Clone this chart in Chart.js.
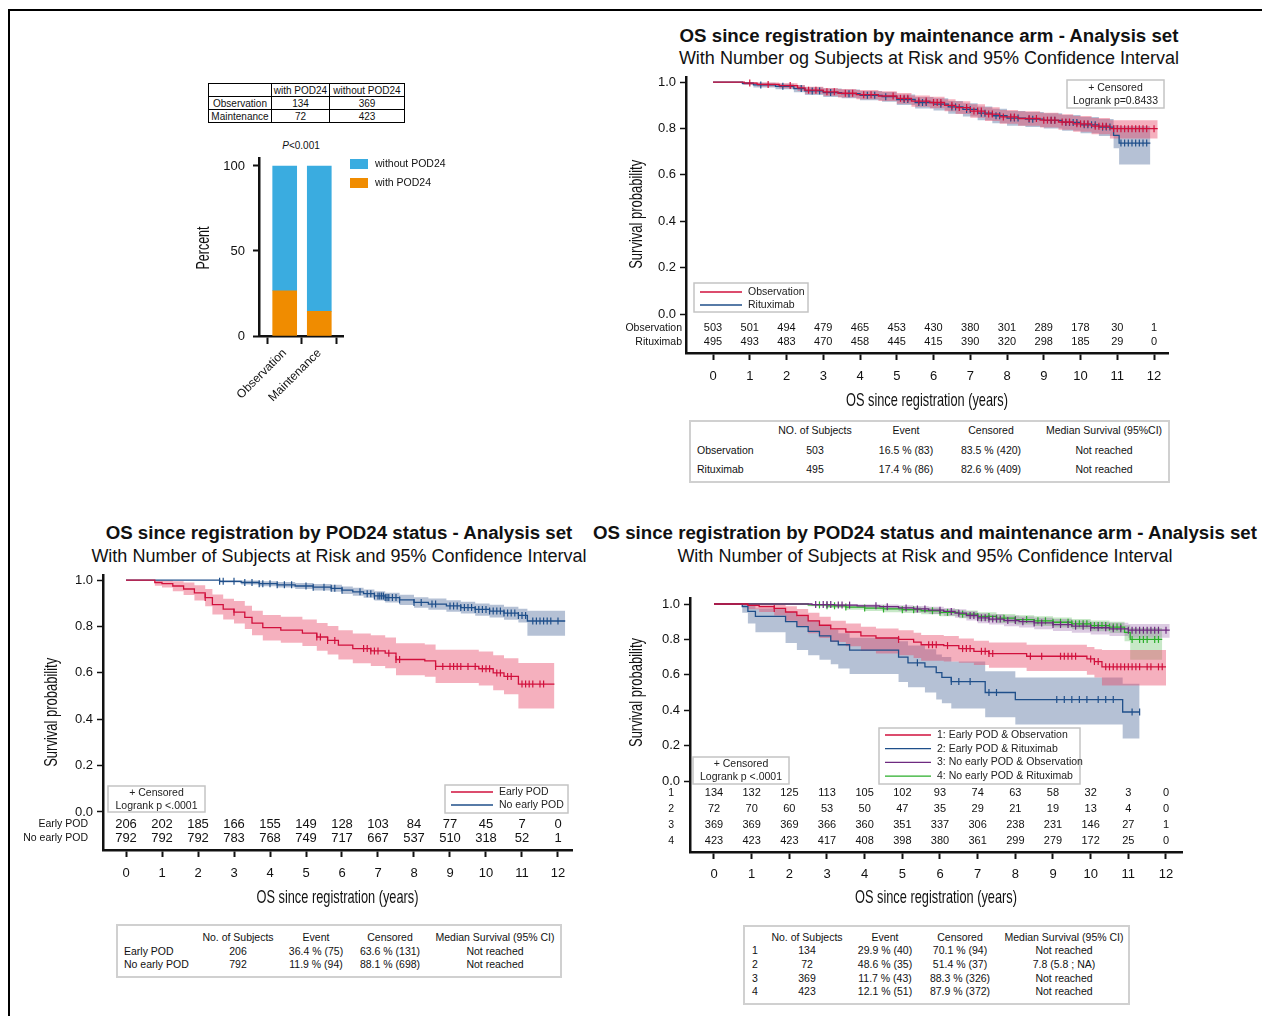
<!DOCTYPE html>
<html>
<head>
<meta charset="utf-8">
<script src="https://cdn.jsdelivr.net/npm/chart.js@4.4.0/dist/chart.umd.min.js"></script>
<style>
body{margin:0;background:#fff;font-family:"Liberation Sans",Arial,sans-serif;color:#111}
#page{position:relative;width:1262px;height:1016px;overflow:hidden}
#frame{position:absolute;left:8px;top:9px;width:1300px;height:1100px;border-top:2px solid #000;border-left:2px solid #000}
canvas{position:absolute}
.ttl{position:absolute;white-space:nowrap;transform:translate(-50%,-50%)}
.ttl.b{font-weight:bold;font-size:18.7px}
.ttl.s{font-size:18px}
.box{position:absolute;border:2px solid #d0d0d0}
.cell{position:absolute;white-space:nowrap;font-size:10.5px;transform:translate(-50%,-50%)}
.cell.l{transform:translate(0,-50%)}
#cnt{position:absolute;left:208px;top:83px;border-collapse:collapse;font-size:10px}
#cnt td{border:1.5px solid #000;padding:0 1px;height:12px;line-height:11px;text-align:center}
#pval{position:absolute;left:301px;top:145px;transform:translate(-50%,-50%);font-size:10px}
</style>
</head>
<body>
<div id="page">
  <div id="frame"></div>
  <table id="cnt"></table>
  <div id="pval"><i>P</i>&lt;0.001</div>
  <canvas id="bar" width="280" height="280" style="left:180px;top:140px"></canvas>
  <canvas id="kmB" width="580" height="345" style="left:600px;top:70px"></canvas>
  <canvas id="kmC" width="580" height="345" style="left:10px;top:570px"></canvas>
  <canvas id="kmD" width="590" height="330" style="left:600px;top:590px"></canvas>
</div>
<script>
// ---------- data ----------
const cntHead = ['', 'with POD24', 'without POD24'];
const cntRows = [['Observation', '134', '369'], ['Maintenance', '72', '423']];

const barCats = ['Observation', 'Maintenance'];
const pctWithPod = [26.6, 14.5];
const pctWithoutPod = [73.4, 85.5];

const riskTimes = [0, 1, 2, 3, 4, 5, 6, 7, 8, 9, 10, 11, 12];
const survTicks = [0, 0.2, 0.4, 0.6, 0.8, 1.0];

// top right: by maintenance arm
const obsT  = [0, 0.85, 1.2, 1.8, 2.3, 2.5, 3.0, 3.4, 3.9, 4.5, 5.0, 5.4, 5.9, 6.3, 6.6, 7.0, 7.4, 7.8, 8.3, 8.9, 9.4, 9.8, 10.3, 10.8, 12.1];
const obsS  = [1, 0.996, 0.99, 0.985, 0.975, 0.965, 0.958, 0.952, 0.946, 0.94, 0.93, 0.918, 0.912, 0.9, 0.89, 0.875, 0.862, 0.85, 0.843, 0.836, 0.828, 0.82, 0.81, 0.799, 0.799];
const obsHi = [1, 1, 0.998, 0.995, 0.988, 0.98, 0.975, 0.97, 0.966, 0.961, 0.953, 0.942, 0.937, 0.926, 0.917, 0.904, 0.892, 0.88, 0.874, 0.868, 0.861, 0.854, 0.845, 0.836, 0.836];
const obsLo = [1, 0.99, 0.981, 0.974, 0.962, 0.95, 0.941, 0.934, 0.926, 0.919, 0.907, 0.894, 0.887, 0.874, 0.863, 0.846, 0.832, 0.82, 0.812, 0.804, 0.795, 0.786, 0.775, 0.757, 0.757];
const obsCens = [1.0, 1.5, 2.1, 2.6, 2.8, 3.1, 3.3, 3.6, 3.8, 4.1, 4.3, 4.9, 5.1, 5.2, 5.3, 5.6, 5.8, 6.0, 6.1, 6.2, 6.5, 6.7, 6.9, 7.1, 7.2, 7.3, 7.5, 7.6, 7.9, 8.1, 8.2, 8.6, 8.8, 9.0, 9.1, 9.2, 9.3, 9.5, 9.6, 9.7, 9.9, 10.0, 10.1, 10.2, 10.4, 10.5, 10.6, 10.7, 10.9, 11.0, 11.1, 11.2, 11.3, 11.4, 11.5, 11.6, 11.7, 11.8, 12.0];
const rtxT  = [0, 0.8, 1.1, 1.7, 2.2, 2.5, 3.0, 3.5, 4.0, 4.6, 5.0, 5.5, 6.0, 6.4, 6.8, 7.2, 7.6, 8.0, 8.5, 9.0, 9.5, 10.0, 10.5, 10.9, 11.05, 11.9];
const rtxS  = [1, 0.995, 0.988, 0.982, 0.972, 0.962, 0.955, 0.95, 0.943, 0.937, 0.925, 0.912, 0.905, 0.893, 0.882, 0.866, 0.855, 0.845, 0.84, 0.835, 0.826, 0.816, 0.806, 0.77, 0.737, 0.737];
const rtxHi = [1, 1, 0.997, 0.993, 0.986, 0.978, 0.972, 0.968, 0.962, 0.957, 0.947, 0.936, 0.93, 0.919, 0.909, 0.895, 0.885, 0.875, 0.871, 0.866, 0.858, 0.85, 0.841, 0.815, 0.81, 0.81];
const rtxLo = [1, 0.988, 0.977, 0.969, 0.956, 0.944, 0.936, 0.93, 0.922, 0.915, 0.901, 0.886, 0.878, 0.864, 0.852, 0.835, 0.823, 0.812, 0.806, 0.8, 0.79, 0.78, 0.768, 0.715, 0.645, 0.645];
const rtxCens = [1.3, 1.9, 2.4, 2.7, 2.9, 3.2, 3.7, 4.2, 4.4, 4.7, 5.2, 5.3, 5.6, 5.7, 5.8, 6.2, 6.5, 6.6, 6.9, 7.0, 7.3, 7.4, 7.7, 7.8, 8.1, 8.2, 8.3, 8.6, 8.7, 9.2, 9.3, 9.6, 9.7, 9.8, 9.9, 10.1, 10.2, 10.3, 10.4, 10.6, 10.7, 10.8, 11.1, 11.2, 11.3, 11.4, 11.5, 11.6, 11.7, 11.8];
const riskObs = [503, 501, 494, 479, 465, 453, 430, 380, 301, 289, 178, 30, 1];
const riskRtx = [495, 493, 483, 470, 458, 445, 415, 390, 320, 298, 185, 29, 0];

// bottom left: by POD24 status
const epT  = [0, 0.8, 1.0, 1.3, 1.6, 1.9, 2.2, 2.4, 2.7, 3.0, 3.3, 3.5, 3.8, 4.3, 4.9, 5.3, 5.6, 5.9, 6.3, 6.8, 7.2, 7.5, 8.3, 8.6, 9.8, 10.2, 10.5, 10.9, 11.9];
const epS  = [1, 0.99, 0.985, 0.975, 0.962, 0.945, 0.925, 0.895, 0.875, 0.862, 0.84, 0.815, 0.795, 0.785, 0.772, 0.755, 0.74, 0.72, 0.705, 0.695, 0.685, 0.658, 0.652, 0.628, 0.618, 0.6, 0.585, 0.552, 0.552];
const epHi = [1, 1, 1, 0.995, 0.99, 0.978, 0.962, 0.938, 0.92, 0.91, 0.89, 0.868, 0.85, 0.842, 0.83, 0.815, 0.802, 0.784, 0.77, 0.762, 0.753, 0.728, 0.723, 0.7, 0.692, 0.676, 0.663, 0.643, 0.643];
const epLo = [1, 0.976, 0.968, 0.952, 0.936, 0.912, 0.888, 0.852, 0.83, 0.813, 0.79, 0.762, 0.74, 0.73, 0.716, 0.696, 0.68, 0.658, 0.642, 0.63, 0.62, 0.59, 0.583, 0.557, 0.546, 0.525, 0.508, 0.447, 0.447];
const epCens = [2.2, 3.0, 5.3, 5.4, 5.6, 5.8, 6.6, 6.7, 6.8, 6.9, 7.0, 7.3, 7.5, 7.6, 8.6, 8.8, 9.0, 9.1, 9.2, 9.3, 9.5, 9.7, 9.9, 10.0, 10.1, 10.3, 10.4, 10.6, 10.7, 11.0, 11.1, 11.2, 11.3, 11.5, 11.6];
const nepT  = [0, 2.6, 3.2, 3.7, 4.2, 4.7, 5.2, 5.7, 6.0, 6.3, 6.6, 6.9, 7.2, 7.6, 8.0, 8.4, 8.9, 9.3, 9.7, 10.1, 10.5, 10.9, 11.15, 12.2];
const nepS  = [1, 0.995, 0.99, 0.985, 0.98, 0.975, 0.97, 0.965, 0.957, 0.95, 0.942, 0.932, 0.925, 0.915, 0.904, 0.897, 0.889, 0.882, 0.874, 0.867, 0.858, 0.848, 0.824, 0.824];
const nepHi = [1, 1, 0.999, 0.996, 0.992, 0.988, 0.984, 0.98, 0.973, 0.967, 0.96, 0.952, 0.946, 0.937, 0.927, 0.921, 0.914, 0.907, 0.9, 0.894, 0.886, 0.877, 0.868, 0.868];
const nepLo = [1, 0.99, 0.981, 0.974, 0.968, 0.962, 0.956, 0.95, 0.941, 0.933, 0.924, 0.912, 0.904, 0.893, 0.881, 0.873, 0.864, 0.856, 0.847, 0.839, 0.829, 0.818, 0.76, 0.76];
const nepCens = [2.6, 2.7, 3.0, 3.3, 3.5, 3.7, 3.8, 4.0, 4.2, 4.4, 4.6, 5.0, 5.2, 5.5, 5.7, 5.8, 6.0, 6.5, 6.7, 6.8, 6.9, 7.0, 7.05, 7.1, 7.15, 7.2, 7.25, 7.3, 7.4, 7.5, 7.6, 8.0, 8.2, 8.5, 8.6, 9.0, 9.1, 9.2, 9.3, 9.4, 9.5, 9.6, 9.7, 9.8, 9.9, 10.0, 10.1, 10.2, 10.3, 10.4, 10.5, 10.6, 10.7, 10.8, 10.9, 11.0, 11.1, 11.3, 11.4, 11.5, 11.6, 11.7, 11.8, 12.0];
const riskEarly = [206, 202, 185, 166, 155, 149, 128, 103, 84, 77, 45, 7, 0];
const riskNoEarly = [792, 792, 792, 783, 768, 749, 717, 667, 537, 510, 318, 52, 1];

// bottom right: POD24 status x maintenance arm
const g1T  = [0, 0.9, 1.2, 1.6, 1.9, 2.2, 2.5, 2.8, 3.1, 3.5, 3.9, 4.3, 4.9, 5.3, 5.5, 6.1, 6.5, 6.9, 7.3, 8.3, 9.9, 10.1, 10.3, 12.0];
const g1S  = [1, 0.992, 0.985, 0.975, 0.955, 0.935, 0.905, 0.88, 0.86, 0.842, 0.82, 0.808, 0.8, 0.785, 0.77, 0.765, 0.748, 0.733, 0.72, 0.705, 0.69, 0.675, 0.645, 0.645];
const g1Hi = [1, 1, 1, 0.997, 0.987, 0.972, 0.95, 0.928, 0.906, 0.89, 0.872, 0.862, 0.852, 0.838, 0.825, 0.82, 0.805, 0.792, 0.782, 0.77, 0.757, 0.745, 0.74, 0.74];
const g1Lo = [1, 0.97, 0.955, 0.935, 0.905, 0.875, 0.835, 0.808, 0.785, 0.762, 0.735, 0.72, 0.71, 0.695, 0.68, 0.675, 0.668, 0.655, 0.64, 0.622, 0.6, 0.585, 0.54, 0.54];
const g1Cens = [1.6, 4.9, 5.7, 5.8, 5.9, 6.2, 6.6, 6.7, 6.8, 7.1, 7.2, 7.3, 7.4, 8.4, 8.7, 9.2, 9.3, 9.4, 9.5, 9.6, 10.0, 10.1, 10.2, 10.4, 10.5, 10.6, 10.7, 10.8, 10.9, 11.0, 11.1, 11.2, 11.3, 11.5, 11.6, 11.8, 11.9];
const g2T  = [0, 0.75, 0.9, 1.1, 1.9, 2.2, 2.5, 2.8, 3.1, 3.3, 3.6, 4.9, 5.15, 5.6, 5.9, 6.05, 6.3, 7.2, 8.0, 10.85, 11.3];
const g2S  = [1, 0.986, 0.958, 0.93, 0.9, 0.872, 0.846, 0.82, 0.79, 0.77, 0.74, 0.7, 0.668, 0.645, 0.612, 0.585, 0.562, 0.5, 0.46, 0.39, 0.39];
const g2Hi = [1, 1, 0.99, 0.975, 0.955, 0.93, 0.905, 0.88, 0.855, 0.835, 0.81, 0.79, 0.765, 0.745, 0.715, 0.7, 0.675, 0.62, 0.585, 0.55, 0.55];
const g2Lo = [1, 0.95, 0.89, 0.84, 0.78, 0.74, 0.71, 0.685, 0.66, 0.635, 0.605, 0.56, 0.53, 0.5, 0.46, 0.44, 0.41, 0.36, 0.32, 0.24, 0.24];
const g2Cens = [5.4, 6.3, 6.5, 6.8, 7.3, 7.5, 9.1, 9.3, 9.5, 9.7, 9.9, 10.2, 10.4, 10.6, 11.1, 11.3];
const g3T  = [0, 2.6, 3.2, 3.8, 4.4, 4.9, 5.3, 5.7, 6.1, 6.4, 6.7, 7.0, 7.3, 7.7, 8.1, 8.5, 9.0, 9.5, 10.0, 10.5, 11.0, 12.1];
const g3S  = [1, 0.997, 0.994, 0.99, 0.985, 0.978, 0.972, 0.965, 0.958, 0.948, 0.935, 0.922, 0.915, 0.907, 0.9, 0.893, 0.884, 0.875, 0.866, 0.86, 0.852, 0.852];
const g3Hi = [1, 1, 1, 0.999, 0.997, 0.993, 0.989, 0.984, 0.978, 0.97, 0.959, 0.948, 0.942, 0.935, 0.929, 0.923, 0.915, 0.907, 0.899, 0.894, 0.887, 0.887];
const g3Lo = [1, 0.99, 0.985, 0.978, 0.97, 0.96, 0.952, 0.943, 0.934, 0.922, 0.907, 0.892, 0.884, 0.875, 0.867, 0.858, 0.848, 0.838, 0.828, 0.82, 0.81, 0.81];
const g3Cens = [2.7, 2.9, 3.0, 3.1, 3.3, 3.4, 3.6, 4.3, 4.6, 5.1, 5.4, 5.6, 6.0, 6.3, 6.5, 6.8, 6.9, 7.0, 7.1, 7.2, 7.3, 7.4, 7.5, 7.6, 7.8, 8.0, 8.2, 8.5, 8.7, 9.0, 9.2, 9.4, 9.6, 9.8, 10.0, 10.2, 10.4, 10.6, 10.8, 11.0, 11.1, 11.2, 11.3, 11.4, 11.5, 11.6, 11.7, 11.8, 12.0];
const g4T  = [0, 2.5, 3.0, 3.5, 4.0, 4.5, 5.0, 5.5, 6.0, 6.5, 7.0, 7.5, 8.0, 8.5, 9.0, 9.5, 10.0, 10.5, 10.9, 11.05, 11.9];
const g4S  = [1, 0.995, 0.99, 0.983, 0.977, 0.972, 0.968, 0.962, 0.953, 0.943, 0.93, 0.92, 0.912, 0.905, 0.897, 0.888, 0.878, 0.87, 0.84, 0.8, 0.8];
const g4Hi = [1, 1, 0.999, 0.995, 0.991, 0.987, 0.984, 0.979, 0.972, 0.964, 0.953, 0.944, 0.937, 0.931, 0.924, 0.916, 0.907, 0.9, 0.88, 0.865, 0.865];
const g4Lo = [1, 0.988, 0.978, 0.968, 0.96, 0.954, 0.949, 0.942, 0.931, 0.919, 0.904, 0.893, 0.884, 0.876, 0.867, 0.857, 0.846, 0.836, 0.79, 0.685, 0.685];
const g4Cens = [2.8, 3.0, 3.2, 3.5, 4.0, 4.5, 5.0, 5.3, 5.8, 6.0, 6.2, 6.6, 7.0, 7.3, 7.5, 7.7, 8.0, 8.3, 8.6, 8.8, 9.0, 9.2, 9.4, 9.5, 9.6, 9.7, 9.8, 9.9, 10.0, 10.1, 10.2, 10.3, 10.4, 10.5, 10.6, 10.7, 10.8, 11.1, 11.3, 11.4, 11.5, 11.7, 11.8];
const riskG1 = [134, 132, 125, 113, 105, 102, 93, 74, 63, 58, 32, 3, 0];
const riskG2 = [72, 70, 60, 53, 50, 47, 35, 29, 21, 19, 13, 4, 0];
const riskG3 = [369, 369, 369, 366, 360, 351, 337, 306, 238, 231, 146, 27, 1];
const riskG4 = [423, 423, 423, 417, 408, 398, 380, 361, 299, 279, 172, 25, 0];

// summary tables
const sumHeadB = ['', 'NO. of Subjects', 'Event', 'Censored', 'Median Survival (95%CI)'];
const sumRowsB = [['Observation', '503', '16.5 % (83)', '83.5 % (420)', 'Not reached'],
                  ['Rituximab', '495', '17.4 % (86)', '82.6 % (409)', 'Not reached']];
const sumHeadC = ['', 'No. of Subjects', 'Event', 'Censored', 'Median Survival (95% CI)'];
const sumRowsC = [['Early POD', '206', '36.4 % (75)', '63.6 % (131)', 'Not reached'],
                  ['No early POD', '792', '11.9 % (94)', '88.1 % (698)', 'Not reached']];
const sumHeadD = ['', 'No. of Subjects', 'Event', 'Censored', 'Median Survival (95% CI)'];
const sumRowsD = [['1', '134', '29.9 % (40)', '70.1 % (94)', 'Not reached'],
                  ['2', '72', '48.6 % (35)', '51.4 % (37)', '7.8 (5.8 ; NA)'],
                  ['3', '369', '11.7 % (43)', '88.3 % (326)', 'Not reached'],
                  ['4', '423', '12.1 % (51)', '87.9 % (372)', 'Not reached']];

// ---------- colours ----------
const RED = '#d1103c', RED_BAND = 'rgba(230,66,100,0.42)';
const BLUE = '#1f4f8a', BLUE_BAND = 'rgba(70,100,150,0.4)';
const PURPLE = '#6e2a80', PURPLE_BAND = 'rgba(130,70,150,0.28)';
const GREEN = '#2aae2a', GREEN_BAND = 'rgba(80,185,80,0.32)';
const FONT = '"Liberation Sans", Arial, sans-serif';

// ---------- page text ----------
const page = document.getElementById('page');
function addText(cls, txt, x, y) {
  const d = document.createElement('div');
  d.className = cls; d.textContent = txt;
  d.style.left = x + 'px'; d.style.top = y + 'px';
  page.appendChild(d);
}
addText('ttl b', 'OS since registration by maintenance arm - Analysis set', 929, 36);
addText('ttl s', 'With Number og Subjects at Risk and 95% Confidence Interval', 929, 58);
addText('ttl b', 'OS since registration by POD24 status - Analysis set', 339, 533);
addText('ttl s', 'With Number of Subjects at Risk and 95% Confidence Interval', 339, 556);
addText('ttl b', 'OS since registration by POD24 status and maintenance arm - Analysis set', 925, 533);
addText('ttl s', 'With Number of Subjects at Risk and 95% Confidence Interval', 925, 556);

const cnt = document.getElementById('cnt');
[cntHead].concat(cntRows).forEach(r => {
  const tr = document.createElement('tr');
  r.forEach((c, j) => {
    const td = document.createElement('td');
    td.textContent = c;
    td.style.width = [60, 55, 72][j] + 'px';
    tr.appendChild(td);
  });
  cnt.appendChild(tr);
});

function summary(head, rows, box, cols, ys) {
  const b = document.createElement('div');
  b.className = 'box';
  b.style.left = box[0] + 'px'; b.style.top = box[1] + 'px';
  b.style.width = box[2] + 'px'; b.style.height = box[3] + 'px';
  page.appendChild(b);
  [head].concat(rows).forEach((r, i) => {
    r.forEach((c, j) => {
      if (!c) return;
      addText(j === 0 ? 'cell l' : 'cell', c, cols[j], ys[i]);
    });
  });
}
summary(sumHeadB, sumRowsB, [689, 420, 477, 59], [697, 815, 906, 991, 1104], [430, 450, 469]);
summary(sumHeadC, sumRowsC, [116, 924, 442, 50], [124, 238, 316, 390, 495], [937, 951, 964]);
summary(sumHeadD, sumRowsD, [743, 925, 383, 76], [752, 807, 885, 960, 1064], [937, 950, 964, 978, 991]);

// ---------- helpers ----------
const pts = (t, v) => t.map((x, i) => ({x: x, y: v[i]}));
function stepAt(t, s, v) {
  let r = s[0];
  for (let i = 0; i < t.length; i++) if (t[i] <= v) r = s[i];
  return r;
}
function noPad(s) { s.paddingTop = 0; s.paddingBottom = 0; s.paddingLeft = 0; s.paddingRight = 0; }

function drawNarrow(ctx, text, x, y, size, target, rot) {
  ctx.save();
  ctx.font = size + 'px ' + FONT;
  const w = ctx.measureText(text).width;
  ctx.translate(x, y);
  if (rot) ctx.rotate(-Math.PI / 2);
  ctx.scale(target / w, 1);
  ctx.textAlign = 'center';
  ctx.textBaseline = 'middle';
  ctx.fillStyle = '#111';
  ctx.fillText(text, 0, 0);
  ctx.restore();
}

function drawBox(ctx, b) {
  ctx.save();
  ctx.fillStyle = '#fff';
  ctx.strokeStyle = '#c4c4c4';
  ctx.lineWidth = 1.5;
  ctx.fillRect(b.x, b.y, b.w, b.h);
  ctx.strokeRect(b.x, b.y, b.w, b.h);
  ctx.font = '10.5px ' + FONT;
  ctx.fillStyle = '#222';
  ctx.textBaseline = 'middle';
  b.items.forEach((it, i) => {
    const yy = b.y + b.top + i * b.step;
    if (it.color) {
      ctx.strokeStyle = it.color;
      ctx.lineWidth = 1.3;
      ctx.beginPath();
      ctx.moveTo(b.x + 6, yy); ctx.lineTo(b.x + 6 + b.line, yy);
      ctx.stroke();
      ctx.textAlign = 'left';
      ctx.fillText(it.text, b.x + 12 + b.line, yy);
    } else {
      ctx.textAlign = 'center';
      ctx.fillText(it.text, b.x + b.w / 2, yy);
    }
  });
  ctx.restore();
}

const kmDecor = {
  id: 'kmDecor',
  afterDraw(chart, args, o) {
    const {ctx, chartArea, scales: {x, y}} = chart;
    ctx.save();
    ctx.fillStyle = '#111';
    ctx.textBaseline = 'middle';
    o.risk.forEach((row, r) => {
      const py = y.getPixelForValue(o.riskRows[r]);
      ctx.font = o.labelFont + 'px ' + FONT;
      ctx.textAlign = 'right';
      ctx.fillText(o.riskLabels[r], chartArea.left - o.labelGap, py);
      ctx.font = o.riskFont + 'px ' + FONT;
      ctx.textAlign = 'center';
      row.forEach((n, i) => ctx.fillText(String(n), x.getPixelForValue(riskTimes[i]), py));
    });
    ctx.restore();
    o.boxes.forEach(b => drawBox(ctx, b));
    drawNarrow(ctx, 'OS since registration (years)', (chartArea.left + chartArea.right) / 2, o.xTitleY, 19, 162, false);
    drawNarrow(ctx, 'Survival probability', o.yTitleX, y.getPixelForValue(o.yTitleAt), 19, 109, true);
  }
};

function kmChart(id, cfg) {
  const lines = [], bands = [];
  cfg.curves.forEach(c => {
    lines.push({data: pts(c.t, c.s), borderColor: c.color, borderWidth: 1.3, stepped: true,
                pointRadius: 0, fill: false, order: 1});
    lines.push({data: c.cens.map(v => ({x: v, y: stepAt(c.t, c.s, v)})), showLine: false,
                pointStyle: 'line', rotation: 90, pointRadius: 3.5, borderColor: c.color,
                borderWidth: 1.2, order: 1});
    bands.push({data: pts(c.t, c.hi), fill: '+1', backgroundColor: c.band, borderColor: 'transparent',
                borderWidth: 0, pointRadius: 0, stepped: true, order: 5});
    bands.push({data: pts(c.t, c.lo), fill: false, borderColor: 'transparent', borderWidth: 0,
                pointRadius: 0, stepped: true, order: 5});
  });
  const tickFont = {family: FONT, size: 13};
  new Chart(document.getElementById(id), {
    type: 'line',
    data: {datasets: lines.concat(bands)},
    options: {
      responsive: false,
      animation: false,
      events: [],
      layout: {padding: cfg.pad},
      plugins: {legend: {display: false}, tooltip: {enabled: false}, kmDecor: cfg.decor},
      scales: {
        x: {
          type: 'linear', min: cfg.x[0], max: cfg.x[1],
          afterBuildTicks: s => { s.ticks = riskTimes.map(v => ({value: v})); },
          afterFit: s => { s.height = cfg.xh; noPad(s); },
          grid: {drawOnChartArea: false, tickLength: 7, tickWidth: 2, tickColor: '#111'},
          border: {display: true, color: '#111', width: 2.5},
          ticks: {font: tickFont, color: '#111', padding: cfg.xpad, maxRotation: 0, autoSkip: false}
        },
        y: {
          type: 'linear', min: cfg.y[0], max: cfg.y[1],
          afterBuildTicks: s => { s.ticks = survTicks.map(v => ({value: v})); },
          afterFit: s => { s.width = cfg.yw; noPad(s); },
          grid: {drawOnChartArea: false, tickLength: 6, tickWidth: 1.5, tickColor: '#111'},
          border: {display: true, color: '#111', width: 2.5},
          ticks: {font: tickFont, color: '#111', padding: 4, callback: v => v.toFixed(1)}
        }
      }
    },
    plugins: [kmDecor]
  });
}

// ---------- top right ----------
kmChart('kmB', {
  curves: [
    {t: obsT, s: obsS, hi: obsHi, lo: obsLo, cens: obsCens, color: RED, band: RED_BAND},
    {t: rtxT, s: rtxS, hi: rtxHi, lo: rtxLo, cens: rtxCens, color: BLUE, band: BLUE_BAND}
  ],
  x: [-0.735, 12.38], y: [-0.168, 1.022],
  pad: {left: 0, right: 12, top: 7, bottom: 0}, yw: 86, xh: 62, xpad: 9,
  decor: {
    risk: [riskObs, riskRtx], riskLabels: ['Observation', 'Rituximab'], riskRows: [-0.06, -0.121],
    riskFont: 11, labelFont: 10.5, labelGap: 4, xTitleY: 331, yTitleX: 37, yTitleAt: 0.43,
    boxes: [
      {x: 94, y: 213, w: 114, h: 29, top: 9, step: 13, line: 42,
       items: [{text: 'Observation', color: RED}, {text: 'Rituximab', color: BLUE}]},
      {x: 467, y: 10, w: 97, h: 28, top: 8, step: 13,
       items: [{text: '+ Censored'}, {text: 'Logrank p=0.8433'}]}
    ]
  }
});

// ---------- bottom left ----------
kmChart('kmC', {
  curves: [
    {t: epT, s: epS, hi: epHi, lo: epLo, cens: epCens, color: RED, band: RED_BAND},
    {t: nepT, s: nepS, hi: nepHi, lo: nepLo, cens: nepCens, color: BLUE, band: BLUE_BAND}
  ],
  x: [-0.639, 12.389], y: [-0.164, 1.0216],
  pad: {left: 0, right: 18, top: 5, bottom: 0}, yw: 93, xh: 65, xpad: 9,
  decor: {
    risk: [riskEarly, riskNoEarly], riskLabels: ['Early POD', 'No early POD'], riskRows: [-0.052, -0.114],
    riskFont: 13, labelFont: 10.5, labelGap: 15, xTitleY: 328, yTitleX: 42, yTitleAt: 0.43,
    boxes: [
      {x: 98, y: 216, w: 97, h: 26, top: 7, step: 13,
       items: [{text: '+ Censored'}, {text: 'Logrank p <.0001'}]},
      {x: 435, y: 215, w: 123, h: 28, top: 7, step: 13, line: 42,
       items: [{text: 'Early POD', color: RED}, {text: 'No early POD', color: BLUE}]}
    ]
  }
});

// ---------- bottom right ----------
kmChart('kmD', {
  curves: [
    {t: g1T, s: g1S, hi: g1Hi, lo: g1Lo, cens: g1Cens, color: RED, band: RED_BAND},
    {t: g2T, s: g2S, hi: g2Hi, lo: g2Lo, cens: g2Cens, color: BLUE, band: BLUE_BAND},
    {t: g3T, s: g3S, hi: g3Hi, lo: g3Lo, cens: g3Cens, color: PURPLE, band: PURPLE_BAND},
    {t: g4T, s: g4S, hi: g4Hi, lo: g4Lo, cens: g4Cens, color: GREEN, band: GREEN_BAND}
  ],
  x: [-0.637, 12.425], y: [-0.401, 1.034],
  pad: {left: 0, right: 8, top: 8, bottom: 0}, yw: 90, xh: 68, xpad: 8,
  decor: {
    risk: [riskG1, riskG2, riskG3, riskG4], riskLabels: ['1', '2', '3', '4'],
    riskRows: [-0.069, -0.16, -0.25, -0.337],
    riskFont: 11, labelFont: 10.5, labelGap: 16, xTitleY: 308, yTitleX: 37, yTitleAt: 0.5,
    boxes: [
      {x: 93, y: 167, w: 96, h: 27, top: 7, step: 13,
       items: [{text: '+ Censored'}, {text: 'Logrank p <.0001'}]},
      {x: 279, y: 138, w: 201, h: 56, top: 7, step: 13.7, line: 46,
       items: [{text: '1: Early POD & Observation', color: RED}, {text: '2: Early POD & Rituximab', color: BLUE},
               {text: '3: No early POD & Observation', color: PURPLE}, {text: '4: No early POD & Rituximab', color: GREEN}]}
    ]
  }
});

// ---------- bar chart ----------
const barDecor = {
  id: 'barDecor',
  afterDraw(chart) {
    const ctx = chart.ctx;
    ctx.save();
    ctx.font = '10.5px ' + FONT;
    ctx.textBaseline = 'middle';
    ctx.textAlign = 'left';
    chart.data.datasets.slice().reverse().forEach((d, i) => {
      ctx.fillStyle = d.backgroundColor;
      ctx.fillRect(170, 19 + i * 19, 18, 10);
      ctx.fillStyle = '#111';
      ctx.fillText(d.label, 195, 24 + i * 19);
    });
    ctx.restore();
    drawNarrow(ctx, 'Percent', 24, 108, 18, 43, true);
  }
};
new Chart(document.getElementById('bar'), {
  type: 'bar',
  data: {
    datasets: [
      {label: 'with POD24', data: barCats.map((c, i) => ({x: i + 1, y: pctWithPod[i]})),
       backgroundColor: '#f08c00', barThickness: 24},
      {label: 'without POD24', data: barCats.map((c, i) => ({x: i + 1, y: pctWithoutPod[i]})),
       backgroundColor: '#3aace0', barThickness: 24}
    ]
  },
  options: {
    responsive: false,
    animation: false,
    events: [],
    layout: {padding: {left: 0, right: 117, top: 18, bottom: 0}},
    plugins: {legend: {display: false}, tooltip: {enabled: false}},
    scales: {
      x: {
        type: 'linear', min: 0.257, max: 2.686, stacked: true, offset: false,
        afterBuildTicks: s => { s.ticks = barCats.map((c, i) => ({value: i + 1})); },
        afterFit: s => { s.height = 84; noPad(s); },
        grid: {drawOnChartArea: false, tickLength: 8, tickWidth: 2, tickColor: '#111'},
        border: {display: true, color: '#111', width: 2.5},
        ticks: {font: {family: FONT, size: 12}, color: '#111', padding: 2, autoSkip: false,
                minRotation: 45, maxRotation: 45, callback: v => barCats[v - 1]}
      },
      y: {
        min: 0, max: 104.7, stacked: true,
        afterBuildTicks: s => { s.ticks = [0, 50, 100].map(v => ({value: v})); },
        afterFit: s => { s.width = 79; noPad(s); },
        grid: {drawOnChartArea: false, tickLength: 6, tickWidth: 2, tickColor: '#111'},
        border: {display: true, color: '#111', width: 2.5},
        ticks: {font: {family: FONT, size: 13}, color: '#111', padding: 8}
      }
    }
  },
  plugins: [barDecor]
});
</script>
</body>
</html>
